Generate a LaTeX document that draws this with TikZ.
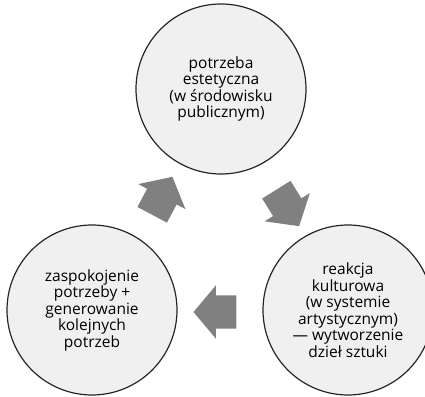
\documentclass[tikz,border=0pt]{standalone}
\usepackage{fontspec}
\setmainfont{Open Sans}
\usetikzlibrary{shapes.arrows}
\begin{document}
\begin{tikzpicture}[
        x=1pt, y=-1pt,
        stage/.style={circle, draw=black!85, line width=1.2pt, fill=black!6,
            minimum size=170pt, inner sep=0pt, align=center,
            font=\fontsize{15.5}{16.5}\selectfont},
        turn/.style={single arrow, fill=black!50, draw=none,
            inner xsep=0pt, inner ysep=16.5pt,
            minimum height=43pt, single arrow head extend=10pt,
            single arrow tip angle=100}
    ]
        \useasboundingbox (0,0) rectangle (425,396);
        \node[stage] (need) at (221,89)
            {potrzeba\\estetyczna\\(w środowisku\\publicznym)};
        \node[stage] (react) at (348,310)
            {reakcja\\kulturowa\\(w systemie\\artystycznym)\\— wytworzenie\\dzieł sztuki};
        \node[stage] (meet) at (92,310)
            {zaspokojenie\\potrzeby +\\generowanie\\kolejnych\\potrzeb};
        \node[turn, rotate=-58] (a1) at (284,202) {};
        \node[turn, rotate=180] (a2) at (222,312) {};
        \node[turn, rotate=62] (a3) at (159,202) {};
    \end{tikzpicture}
\end{document}
